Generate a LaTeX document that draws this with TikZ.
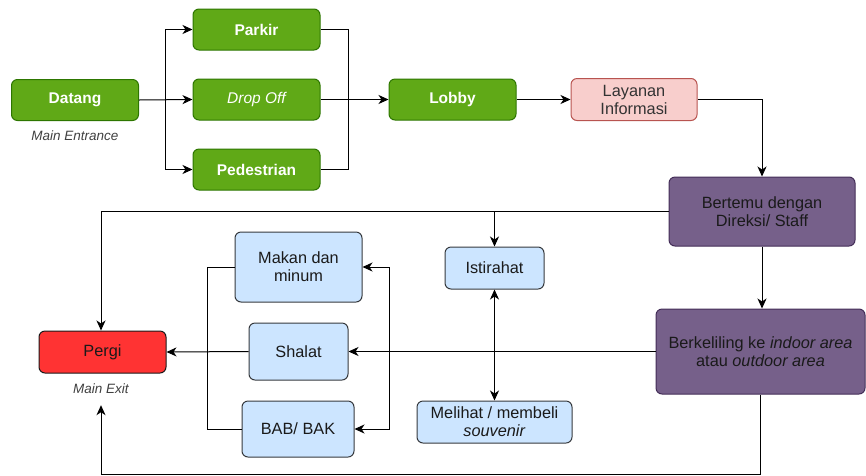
\documentclass[tikz,border=0pt]{standalone}
\usepackage{fontspec}
\setmainfont{Liberation Sans}
\usetikzlibrary{arrows.meta}
\definecolor{gfill}{HTML}{60A917}
\definecolor{gline}{HTML}{2D7600}
\definecolor{bfill}{HTML}{CCE5FF}
\definecolor{bline}{HTML}{36393D}
\definecolor{pfill}{HTML}{76608A}
\definecolor{pline}{HTML}{432D57}
\definecolor{rfill}{HTML}{FF3333}
\definecolor{rline}{HTML}{1A1A1A}
\definecolor{kfill}{HTML}{F8CECC}
\definecolor{kline}{HTML}{B85450}
\definecolor{txt}{HTML}{1A1A1A}
\tikzset{
  box/.style={draw, line width=1pt, rounded corners=6pt, align=center, inner sep=2pt,
    font=\fontsize{16.3}{18}\selectfont, text=txt},
  greenbox/.style={box, fill=gfill, draw=gline, text=white, font=\fontsize{15.5}{17}\selectfont\bfseries,
    minimum width=127pt, minimum height=41pt},
  bluebox/.style={box, fill=bfill, draw=bline},
  purplebox/.style={box, fill=pfill, draw=pline},
  lbl/.style={font=\fontsize{13.5}{15}\selectfont\itshape, text=black!75},
  conn/.style={line width=1pt, draw=black},
  arr/.style={conn, -{Stealth[length=10pt,width=9pt,inset=3pt]}},
  darr/.style={conn, {Stealth[length=10pt,width=9pt,inset=3pt]}-{Stealth[length=10pt,width=9pt,inset=3pt]}}
}
\begin{document}
\begin{tikzpicture}[x=1pt,y=-1pt]
\useasboundingbox (0,0) rectangle (866,475);
% nodes
\node[greenbox] (datang) at (75,100) {Datang};
\node[lbl] (entr) at (75,136) {Main Entrance};
\node[greenbox] (parkir) at (256.5,29.5) {Parkir};
\node[greenbox, font=\fontsize{15.5}{17}\selectfont\itshape] (dropoff) at (256.5,99.5) {Drop Off};
\node[greenbox] (pedestrian) at (256.5,169.5) {Pedestrian};
\node[greenbox] (lobby) at (452.5,99.5) {Lobby};
\node[box, fill=kfill, draw=kline, text=black!80, minimum width=126pt, minimum height=42pt] (layanan) at (634,99.5) {Layanan\\Informasi};
\node[purplebox, minimum width=186pt, minimum height=69pt] (bertemu) at (762,211.5) {Bertemu dengan\\Direksi/ Staff};
\node[bluebox, minimum width=99pt, minimum height=42pt] (istirahat) at (494.5,268) {Istirahat};
\node[purplebox, minimum width=209pt, minimum height=85pt] (berkeliling) at (760.5,351.5) {Berkeliling ke \textit{indoor area}\\atau \textit{outdoor area}};
\node[bluebox, minimum width=127pt, minimum height=70pt] (makan) at (298.5,267) {Makan dan\\minum};
\node[bluebox, minimum width=99pt, minimum height=57pt] (shalat) at (298.5,351.5) {Shalat};
\node[bluebox, minimum width=112pt, minimum height=56pt] (bab) at (298,429) {BAB/ BAK};
\node[bluebox, minimum width=155pt, minimum height=42pt] (melihat) at (494.5,422) {Melihat / membeli\\\textit{souvenir}};
\node[box, fill=rfill, draw=rline, minimum width=127pt, minimum height=42pt] (pergi) at (102.5,352) {Pergi};
\node[lbl, minimum height=32pt, inner sep=0pt] (exitl) at (101,389) {Main Exit};
% junctions
\coordinate (b1) at (165,100);
\coordinate (m1) at (348,100);
\coordinate (b2) at (494.5,211.5);
\coordinate (b3) at (389,351.5);
\coordinate (m2) at (207,351.5);
\coordinate (e1) at (101,474);
% connectors
\draw[arr] (datang.east) -- (dropoff.west);
\draw[arr] (b1) |- (parkir.west);
\draw[arr] (b1) |- (pedestrian.west);
\draw[arr] (dropoff.east) -- (lobby.west);
\draw[conn] (parkir.east) -| (m1);
\draw[conn] (pedestrian.east) -| (m1);
\draw[arr] (lobby.east) -- (layanan.west);
\draw[arr] (layanan.east) -| (bertemu.north);
\draw[arr] (bertemu.west) -| (pergi.north -| e1);
\draw[arr] (b2) -- (istirahat.north);
\draw[arr] (bertemu.south) -- (bertemu.south |- berkeliling.north);
\draw[arr] (berkeliling.west) -- (shalat.east);
\draw[arr] (b3) |- (makan.east);
\draw[arr] (b3) |- (bab.east);
\draw[arr] (shalat.west) -- (pergi.east);
\draw[conn] (makan.west) -| (m2);
\draw[conn] (bab.west) -| (m2);
\draw[darr] (istirahat.south) -- (melihat.north);
\draw[arr] (berkeliling.south) |- (e1) -- (exitl.south);
\end{tikzpicture}
\end{document}
